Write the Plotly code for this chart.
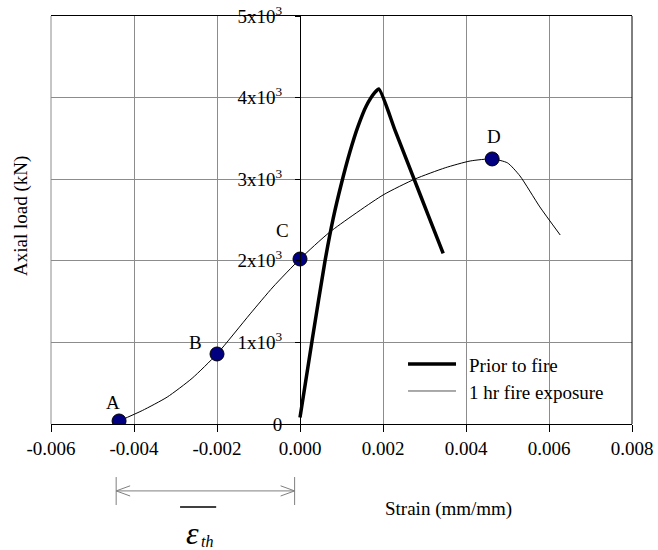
import plotly.graph_objects as go

# ---------------- data ----------------
prior_strain = [0.0, 0.0003, 0.0006, 0.0008, 0.001, 0.0012, 0.0014, 0.0016, 0.0018, 0.0019,
                0.0023, 0.0027, 0.0031, 0.00345]
prior_load = [80, 1050, 1990, 2520, 2950, 3330, 3650, 3900, 4060, 4105,
              3585, 3065, 2545, 2090]

fire_strain = [-0.00436, -0.0038, -0.0032, -0.0026, -0.002, -0.0012, -0.00065, 0.0, 0.00072, 0.002,
               0.00277, 0.0035, 0.0041, 0.00463, 0.0050, 0.0053, 0.00578, 0.00627]
fire_load = [37, 165, 330, 560, 858, 1350, 1679, 2022, 2353, 2806,
             3002, 3140, 3223, 3248, 3200, 3040, 2660, 2316]

point_labels = ["A", "B", "C", "D"]
point_strain = [-0.00436, -0.002, 0.0, 0.00463]
point_load = [37, 858, 2022, 3248]

x_ticks = [-0.006, -0.004, -0.002, 0.0, 0.002, 0.004, 0.006, 0.008]
x_ticktext = ["-0.006", "-0.004", "-0.002", "0.000", "0.002", "0.004", "0.006", "0.008"]
y_ticks = [0, 1000, 2000, 3000, 4000, 5000]
y_ticktext = ["0", "1x10<sup>3</sup>", "2x10<sup>3</sup>", "3x10<sup>3</sup>",
              "4x10<sup>3</sup>", "5x10<sup>3</sup>"]

series_names = ["Prior to fire", "1 hr fire exposure"]

FONT = "Times New Roman, Liberation Serif, serif"
GRID = "#8c8c8c"

fig = go.Figure()
fig.add_trace(go.Scatter(x=prior_strain, y=prior_load, mode="lines", name=series_names[0],
                         line=dict(color="black", width=3.5, shape="spline", smoothing=0.6),
                         showlegend=False))
fig.add_trace(go.Scatter(x=fire_strain, y=fire_load, mode="lines", name=series_names[1],
                         line=dict(color="black", width=1, shape="spline", smoothing=0.6),
                         showlegend=False))
fig.add_trace(go.Scatter(x=point_strain, y=point_load, mode="markers", showlegend=False,
                         marker=dict(size=14, color="#000080", line=dict(color="black", width=1))))

label_shifts = [(-6, 18), (-22, 11), (-18, 29), (2, 22)]
annotations = []
for lab, xs, ys, (dx, dy) in zip(point_labels, point_strain, point_load, label_shifts):
    annotations.append(dict(x=xs, y=ys, xref="x", yref="y", text=lab, showarrow=False,
                            xshift=dx, yshift=dy, font=dict(family=FONT, size=19, color="black")))

# axis titles
annotations.append(dict(x=0.685, y=-0.2083, xref="paper", yref="paper", text="Strain (mm/mm)",
                        showarrow=False, xanchor="center", yanchor="middle",
                        font=dict(family=FONT, size=19, color="black")))
annotations.append(dict(x=-0.0516, y=0.5098, xref="paper", yref="paper", text="Axial load (kN)",
                        showarrow=False, textangle=-90, xanchor="center", yanchor="middle",
                        font=dict(family=FONT, size=19, color="black")))
# legend texts
annotations.append(dict(x=0.716, y=0.1446, xref="paper", yref="paper", text=series_names[0],
                        showarrow=False, xanchor="left", yanchor="middle",
                        font=dict(family=FONT, size=19, color="black")))
annotations.append(dict(x=0.716, y=0.0784, xref="paper", yref="paper", text=series_names[1],
                        showarrow=False, xanchor="left", yanchor="middle",
                        font=dict(family=FONT, size=19, color="black")))
# epsilon_th
annotations.append(dict(x=-0.0026, y=-0.267, xref="x", yref="paper",
                        text="<i>ε</i>", showarrow=False,
                        xanchor="center", yanchor="middle",
                        font=dict(family=FONT, size=32, color="black")))
annotations.append(dict(x=-0.00223, y=-0.2868, xref="x", yref="paper",
                        text="<i>th</i>", showarrow=False,
                        xanchor="center", yanchor="middle",
                        font=dict(family=FONT, size=16, color="black")))

shapes = []
# right and left frame borders
shapes.append(dict(type="line", xref="paper", yref="paper", x0=1, x1=1, y0=0, y1=1,
                   line=dict(color="black", width=1), layer="above"))
shapes.append(dict(type="line", xref="paper", yref="paper", x0=0, x1=0, y0=0, y1=1,
                   line=dict(color=GRID, width=1), layer="below"))
# legend box background
shapes.append(dict(type="rect", xref="paper", yref="paper", x0=0.5921, x1=0.988, y0=0.01716, y1=0.2108,
                   fillcolor="white", line=dict(width=0), layer="between"))
shapes.append(dict(type="line", xref="paper", yref="paper", x0=0.6145, x1=0.6971, y0=0.1471, y1=0.1471,
                   line=dict(color="black", width=3.5)))
shapes.append(dict(type="line", xref="paper", yref="paper", x0=0.6145, x1=0.6971, y0=0.0809, y1=0.0809,
                   line=dict(color="#555555", width=1)))

# thermal strain dimension arrow
ARROW = "#7f7f7f"
xl, xr = -0.00443, -0.00013
ya, yb0, yb1 = -0.164, -0.130, -0.1985
dxh, dyh = 0.000337, 0.0125
shapes.append(dict(type="line", xref="x", yref="paper", x0=xl, x1=xr, y0=ya, y1=ya,
                   line=dict(color=ARROW, width=1)))
shapes.append(dict(type="line", xref="x", yref="paper", x0=xl, x1=xl, y0=yb0, y1=yb1,
                   line=dict(color=ARROW, width=1)))
shapes.append(dict(type="line", xref="x", yref="paper", x0=xr, x1=xr, y0=yb0, y1=yb1,
                   line=dict(color=ARROW, width=1)))
shapes.append(dict(type="path", xref="x", yref="paper",
                   path=f"M {xl+dxh},{ya+dyh} L {xl},{ya} L {xl+dxh},{ya-dyh}",
                   line=dict(color=ARROW, width=1)))
shapes.append(dict(type="path", xref="x", yref="paper",
                   path=f"M {xr-dxh},{ya+dyh} L {xr},{ya} L {xr-dxh},{ya-dyh}",
                   line=dict(color=ARROW, width=1)))
# overbar above epsilon
shapes.append(dict(type="line", xref="x", yref="paper", x0=-0.00289, x1=-0.00202, y0=-0.2034, y1=-0.2034,
                   line=dict(color="black", width=1.5)))

fig.update_layout(
    width=658, height=550,
    margin=dict(l=51, r=26, t=16, b=126, autoexpand=False),
    paper_bgcolor="white", plot_bgcolor="white",
    font=dict(family=FONT, size=19, color="black"),
    showlegend=False,
    annotations=annotations,
    shapes=shapes,
    xaxis=dict(range=[-0.006, 0.008], tickvals=x_ticks, ticktext=x_ticktext,
               automargin=False, ticklabeloverflow="allow",
               showgrid=True, gridcolor=GRID, gridwidth=1, zeroline=False,
               showline=True, linecolor="black", linewidth=1, mirror=True,
               ticks="outside", ticklen=7, tickcolor="black", tickwidth=1,
               tickfont=dict(family=FONT, size=19, color="black")),
    yaxis=dict(range=[0, 5000], tickvals=y_ticks, ticktext=y_ticktext,
               automargin=False, ticklabeloverflow="allow",
               anchor="free", position=3 / 7,
               showgrid=True, gridcolor=GRID, gridwidth=1, zeroline=False,
               showline=True, linecolor="black", linewidth=1,
               ticks="outside", ticklen=5, tickcolor="black", tickwidth=1,
               ticklabelstandoff=9,
               tickfont=dict(family=FONT, size=19, color="black")),
)

# remove the page's default 8px body margin so the figure fills the window exactly
fig.write_html("out.html", config={"displayModeBar": False},
               post_script="document.body.style.margin='0px';")
